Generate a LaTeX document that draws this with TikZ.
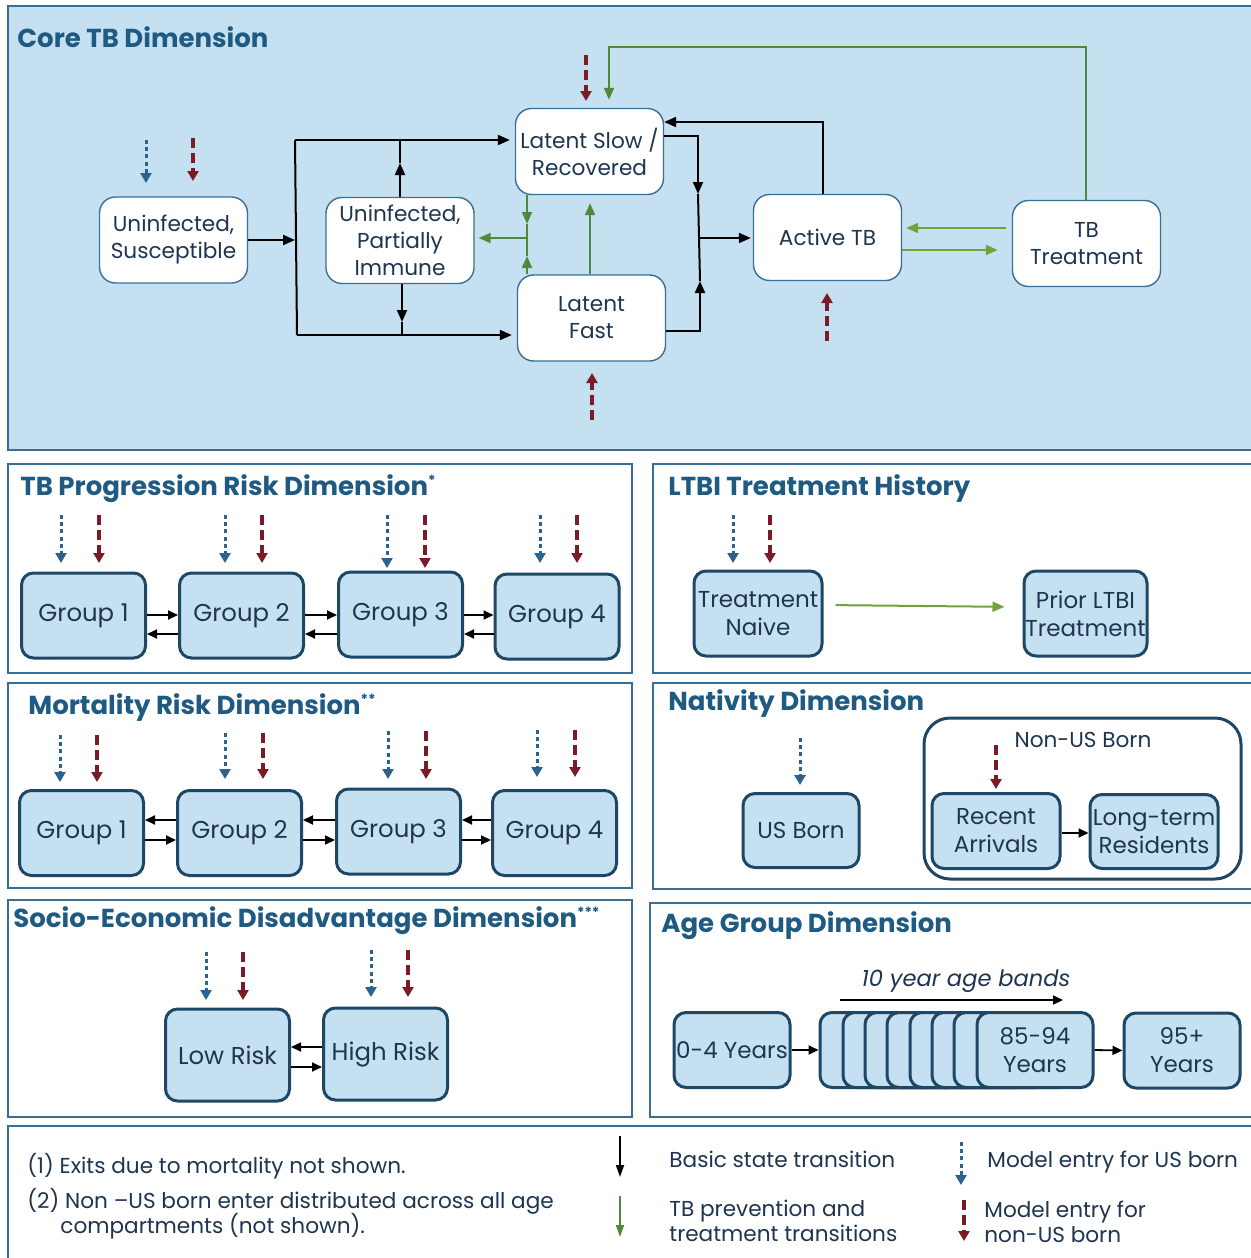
\documentclass[tikz,border=0pt]{standalone}
\usepackage{fontspec}
\setmainfont{Poppins}
\usetikzlibrary{arrows.meta,calc}
\definecolor{panel}{HTML}{C5E1F1}
\definecolor{pborder}{HTML}{3A6F95}
\definecolor{ttl}{HTML}{1E5A82}
\definecolor{txt}{HTML}{1E3550}
\definecolor{navy}{HTML}{1E4766}
\definecolor{nred}{HTML}{7A1B27}
\definecolor{nblue}{HTML}{2A6390}
\definecolor{grn}{HTML}{4E8A3A}
\definecolor{lgrn}{HTML}{74A23A}
\tikzset{
  core/.style={draw=pborder, fill=white, line width=0.7pt, rounded corners=8pt,
    minimum width=74pt, minimum height=43pt, inner sep=0pt, align=center, text=txt,
    font=\fontsize{10.8}{13.5}\selectfont},
  grp/.style={draw=navy, fill=panel, line width=1.5pt, rounded corners=6pt,
    minimum width=62pt, minimum height=42.5pt, inner sep=0pt, align=center, text=txt,
    font=\fontsize{12.2}{14}\selectfont},
  panelbox/.style={draw=pborder, line width=0.9pt, fill=white},
  ttlstyle/.style={anchor=west, text=ttl, font=\bfseries\fontsize{13}{16}\selectfont, inner sep=0pt},
  bl/.style={line width=1pt, black},
  blk/.style={bl, -{Triangle[length=6pt,width=5pt]}},
  sblk/.style={line width=0.9pt, black, -{Triangle[length=5pt,width=4.5pt]}},
  gr/.style={line width=1pt, grn},
  grk/.style={gr, -{Triangle[length=6pt,width=5pt]}},
  lgk/.style={line width=1pt, lgrn, -{Triangle[length=6pt,width=5pt]}},
  usent/.style={nblue, line width=1.5pt, dash pattern=on 2pt off 1.6pt, -{Triangle[length=5pt,width=5.5pt]}},
  nusent/.style={nred, line width=1.7pt, dash pattern=on 5pt off 2.5pt, -{Triangle[length=5pt,width=5.5pt]}},
  lg/.style={anchor=west, text=txt, font=\fontsize{10.8}{12.8}\selectfont, inner sep=0pt, align=left},
}
\newcommand{\supst}[1]{\raisebox{0.7ex}{\fontsize{7}{7}\selectfont #1}}
\begin{document}
\begin{tikzpicture}[x=0.5pt,y=-0.5pt]
\useasboundingbox (0,0) rectangle (1250,1258);
\fill[white] (0,0) rectangle (1250,1258);

% ---------------- Core panel
\draw[pborder, line width=0.9pt, fill=panel] (8,6) rectangle (1256,450);
\node[ttlstyle] (tcore) at (17,37) {Core TB Dimension};

\node[core] (sus) at (173.5,240) {Uninfected,\\Susceptible};
\node[core] (pim) at (400,240.5) {Uninfected,\\Partially\\Immune};
\node[core] (ls) at (589.5,151.5) {Latent Slow /\\Recovered};
\node[core] (lf) at (591.5,318) {Latent\\Fast};
\node[core] (atb) at (827.5,237.5) {Active TB};
\node[core] (tbt) at (1086.5,243.5) {TB\\Treatment};

% black transitions
\coordinate (jl) at (295,240);
\coordinate (jlt) at (295,140);
\coordinate (jlb) at (297,335);
\draw[blk] (sus.east) -- (jl);
\draw[bl] (jlt) -- (jlb);
\draw[blk, shorten >=2.5pt] (jlt) -- (jlt -| ls.west);
\draw[blk, shorten >=2.5pt] (jlb) -- (jlb -| lf.west);
\coordinate (pu) at (400,163);
\draw[blk] (pim.north) -- (pu);
\draw[bl] (pu) -- (pu |- jlt);
\coordinate (pd) at (402,322);
\draw[blk] (pim.south -| pd) -- (pd);
\draw[bl] (pd) -- (pd |- jlb);
\coordinate (r1) at (698,136);
\coordinate (r1m) at (698,194);
\draw[blk] (ls.east |- r1) -- (r1) -- (r1m);
\coordinate (r2) at (700,331);
\coordinate (r2m) at (700,281);
\draw[blk] (lf.east |- r2) -- (r2) -- (r2m);
\coordinate (jr) at (699,238);
\draw[bl] (r1m) -- (r2m);
\draw[blk, shorten >=1pt] (jr) -- (jr -| atb.west);
\coordinate (at1) at (823,122);
\draw[blk] (at1 |- atb.north) -- (at1) -- (at1 -| ls.east);

% green transitions
\coordinate (gx) at (527,238);
\coordinate (gd) at (527,224);
\coordinate (gu) at (527,256);
\draw[grk] (ls.south -| gx) -- (gd);
\draw[grk] (lf.north -| gx) -- (gu);
\draw[gr] (gd) -- (gu);
\draw[grk, shorten >=2pt] (gx) -- (pim.east |- gx);
\coordinate (gy) at (590,0);
\draw[grk, shorten >=4pt] (lf.north -| gy) -- (ls.south -| gy);
\coordinate (t1) at (1086,47);
\coordinate (t2) at (609,47);
\draw[grk, shorten >=4pt] (tbt.north -| t1) -- (t1) -- (t2) -- (t2 |- ls.north);
\coordinate (ty1) at (0,228);
\coordinate (ty2) at (0,250);
\draw[lgk, shorten <=3pt, shorten >=2pt] (tbt.west |- ty1) -- (atb.east |- ty1);
\draw[lgk, shorten >=7pt] (atb.east |- ty2) -- (tbt.west |- ty2);

% entries
\draw[usent] (146,140) -- (146,183);
\draw[nusent] (193,138) -- (193,181);
\draw[nusent] (586,55) -- (586,101);
\draw[nusent] (827,341) -- (827,293);
\draw[nusent] (592,420) -- (592,373);

% ---------------- TB progression risk
\draw[panelbox] (8,464) rectangle (632,673);
\node[ttlstyle] (tprog) at (20,489) {TB Progression Risk Dimension\supst{*}};
\node[grp] (p1) at (83.5,615.5) {Group 1};
\node[grp] (p2) at (241.5,615.5) {Group 2};
\node[grp] (p3) at (400.5,614.5) {Group 3};
\node[grp] (p4) at (557,616.5) {Group 4};
\foreach \a/\b in {p1/p2,p2/p3,p3/p4}{
  \draw[sblk] (\a.east |- 0,615) -- (\b.west |- 0,615);
  \draw[sblk] (\b.west |- 0,634) -- (\a.east |- 0,634);
}
\foreach \u/\r/\y in {61/99/563,225/262/563,387/425/568,540/577/563}{
  \draw[usent] (\u,515) -- (\u,\y);
  \draw[nusent] (\r,515) -- (\r,\y);
}

% ---------------- Mortality risk
\draw[panelbox] (8,683) rectangle (632,888);
\node[ttlstyle] (tmort) at (28,708) {Mortality Risk Dimension\supst{**}};
\node[grp] (m1) at (81.5,833) {Group 1};
\node[grp] (m2) at (239.5,833) {Group 2};
\node[grp] (m3) at (398.5,831.5) {Group 3};
\node[grp] (m4) at (554.5,833) {Group 4};
\foreach \a/\b in {m1/m2,m2/m3,m3/m4}{
  \draw[sblk] (\b.west |- 0,820) -- (\a.east |- 0,820);
  \draw[sblk] (\a.east |- 0,840) -- (\b.west |- 0,840);
}
\foreach \u/\r/\t/\y in {60/97/735/782,225/263/733/779,388/426/731/779,537/575/730/777}{
  \draw[usent] (\u,\t) -- (\u,\y);
  \draw[nusent] (\r,\t) -- (\r,\y);
}

% ---------------- Socio-economic
\draw[panelbox] (8,900) rectangle (632,1117);
\node[ttlstyle] (tsoc) at (13,921) {Socio-Economic Disadvantage Dimension\supst{***}};
\node[grp, minimum height=46pt] (lo) at (227.5,1055) {Low Risk};
\node[grp, minimum height=46pt] (hi) at (385.5,1054) {High Risk};
\draw[sblk] (hi.west |- 0,1047) -- (lo.east |- 0,1047);
\draw[sblk] (lo.east |- 0,1067) -- (hi.west |- 0,1067);
\draw[usent] (206,952) -- (206,1000);
\draw[nusent] (243,952) -- (243,1000);
\draw[usent] (371,950) -- (371,997);
\draw[nusent] (408,950) -- (408,997);

% ---------------- LTBI treatment history
\draw[panelbox] (653,464) rectangle (1256,673);
\node[ttlstyle] (tltbi) at (668,489) {LTBI Treatment History};
\node[grp, minimum width=64pt, font=\fontsize{11.5}{14}\selectfont] (tn) at (758,613.5) {Treatment\\Naive};
\node[grp, minimum width=61.5pt, font=\fontsize{11.5}{14}\selectfont] (pl) at (1085.5,613.5) {Prior LTBI\\Treatment};
\draw[lgk, shorten <=6pt, shorten >=9pt] (tn.east |- 0,605) -- (pl.west |- 0,607);
\draw[usent] (733,515) -- (733,563);
\draw[nusent] (770,515) -- (770,563);

% ---------------- Nativity
\draw[panelbox] (653,683) rectangle (1256,889);
\node[ttlstyle] (tnat) at (668,704) {Nativity Dimension};
\node[grp, minimum width=58pt, minimum height=37pt, font=\fontsize{11.5}{14}\selectfont] (usb) at (801,830.5) {US Born};
\draw[usent] (800,738) -- (800,785);
\draw[navy, line width=1.5pt, rounded corners=13pt, fill=white] (924,718) rectangle (1241,879);
\node[anchor=center, text=txt, font=\fontsize{10.8}{13}\selectfont, inner sep=0pt] (nusl) at (1083,740) {Non-US Born};
\node[grp, minimum width=64pt, minimum height=37.5pt, font=\fontsize{11.5}{14}\selectfont] (ra) at (996,831) {Recent\\Arrivals};
\node[grp, minimum width=64pt, minimum height=37pt, font=\fontsize{11.5}{14}\selectfont] (ltr) at (1154,831.5) {Long-term\\Residents};
\draw[sblk] (ra.east |- 0,833) -- (ltr.west |- 0,833);
\draw[nusent] (996,745) -- (996,789);

% ---------------- Age group
\draw[panelbox] (650,903) rectangle (1256,1117);
\node[ttlstyle] (tage) at (661,926) {Age Group Dimension};
\node[grp, minimum width=58pt, minimum height=37.5pt, font=\fontsize{11.5}{14}\selectfont] (a0) at (732,1050) {0-4 Years};
\foreach \x [count=\i] in {819,842,864,886,909,931,953}{
  \node[grp, minimum width=58pt, minimum height=37.5pt] (ab\i) at (\x+59,1050) {};
}
\node[grp, minimum width=58pt, minimum height=37.5pt, font=\fontsize{11.5}{14}\selectfont] (a85) at (1035,1050) {85-94\\Years};
\node[grp, minimum width=58pt, minimum height=37.5pt, font=\fontsize{11.5}{14}\selectfont] (a95) at (1182,1050.5) {95+\\Years};
\draw[sblk] (a0.east) -- (ab1.west);
\draw[sblk] (a85.east) -- (a95.west);
\node[text=txt, font=\itshape\fontsize{11.3}{13}\selectfont, inner sep=0pt] (band) at (966,981) {10 year age bands};
\coordinate (bs) at (840,1000);
\coordinate (be) at (1063,1000);
\draw[sblk] (bs) -- (be);

% ---------------- Legend
\draw[pborder, line width=0.9pt, fill=white] (8,1126) rectangle (1256,1262);
\node[lg] (l1) at (27,1166) {(1) Exits due to mortality not shown.};
\node[lg] (l2) at (27,1201) {(2) Non –US born enter distributed across all age};
\node[lg] (l3) at (60,1226) {compartments (not shown).};
\coordinate (k1a) at (620,1136);
\coordinate (k1b) at (620,1177);
\draw[line width=0.9pt, -{Triangle[length=6pt,width=4pt]}] (k1a) -- (k1b);
\node[lg] (k1t) at (669,1159) {Basic state transition};
\coordinate (k2a) at (620,1196);
\coordinate (k2b) at (620,1237);
\draw[grn, line width=0.9pt, -{Triangle[length=6pt,width=4pt]}] (k2a) -- (k2b);
\node[lg] (k2t) at (669,1221) {TB prevention and\\treatment transitions};
\coordinate (k3a) at (961,1142);
\coordinate (k3b) at (961,1185);
\draw[usent] (k3a) -- (k3b);
\node[lg] (k3t) at (987,1162) {Model entry for US born};
\coordinate (k4a) at (964,1200);
\coordinate (k4b) at (964,1241);
\draw[nusent] (k4a) -- (k4b);
\node[lg] (k4t) at (984,1222) {Model entry for\\non-US born};
\end{tikzpicture}
\end{document}
